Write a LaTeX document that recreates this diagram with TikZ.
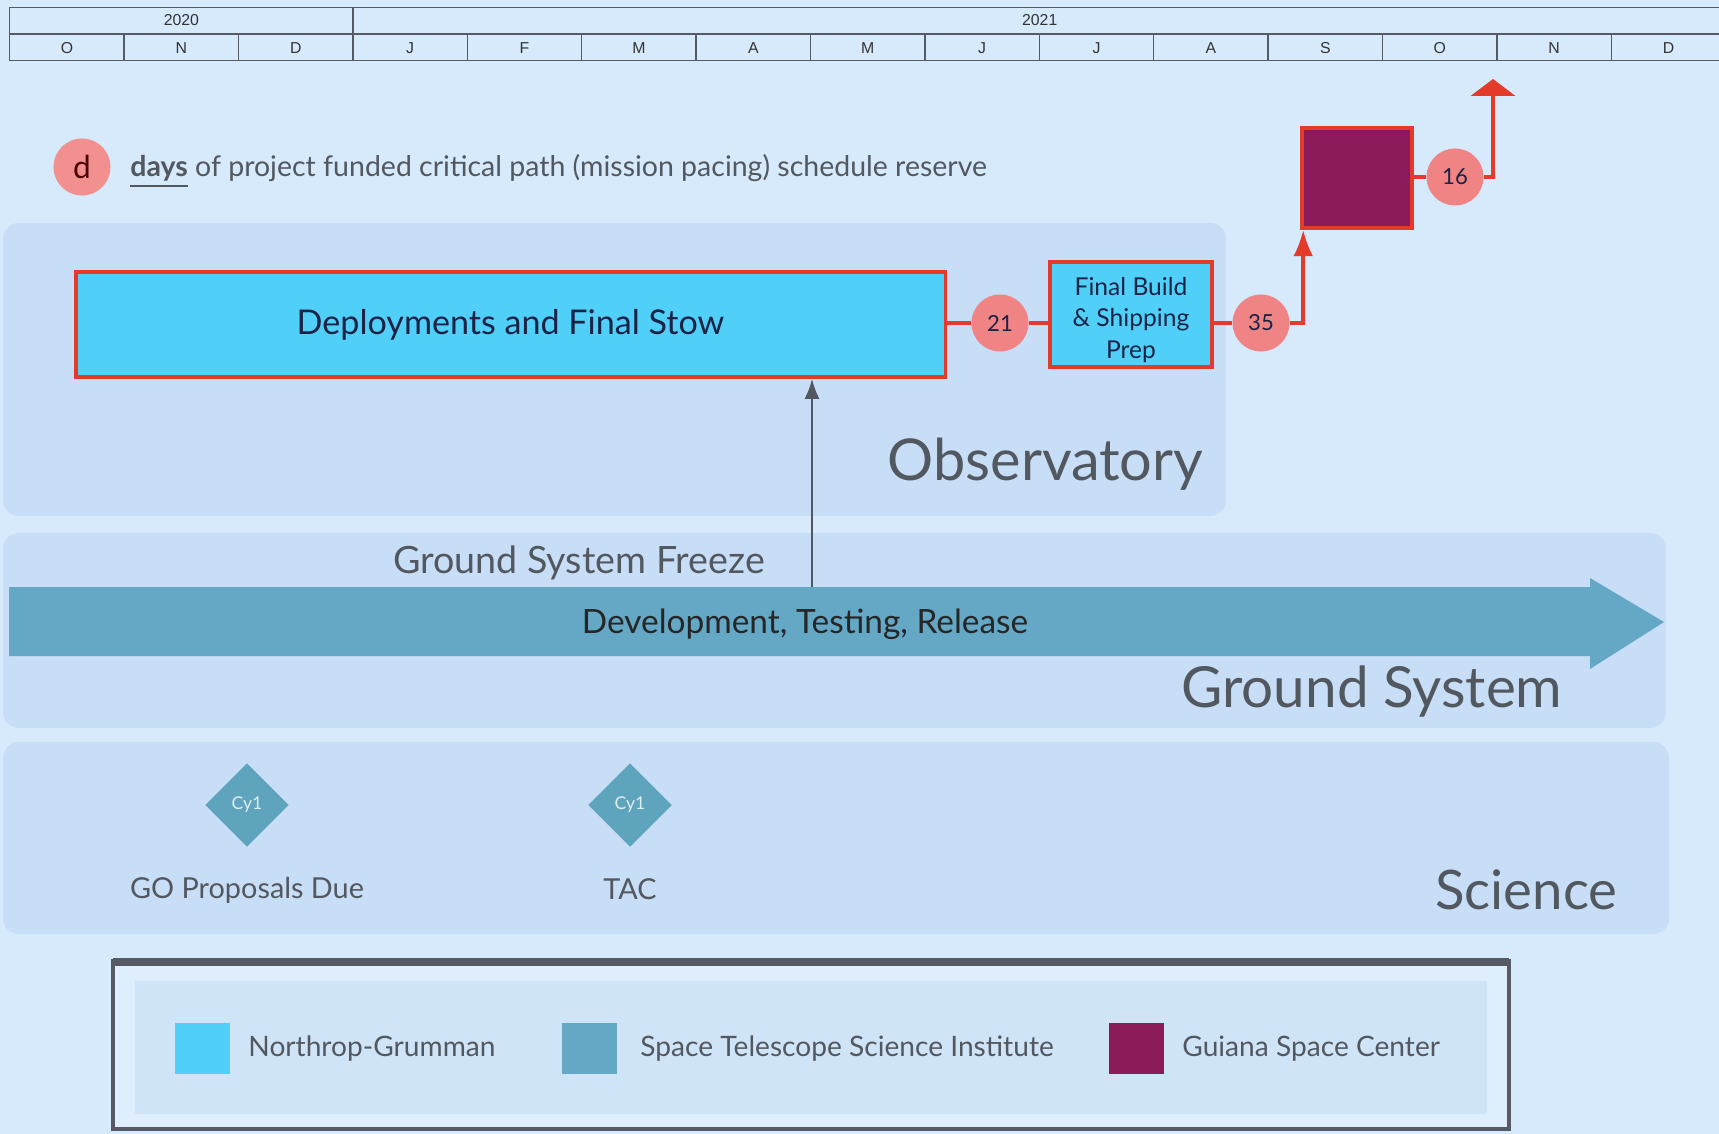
\documentclass[tikz,border=0pt]{standalone}
\usepackage{fontspec}
\setmainfont{Lato}
\newfontfamily\hdrfont{Liberation Sans}
\usepackage{tikz}
\usetikzlibrary{arrows.meta,shapes.geometric,positioning}

\definecolor{bgblue}{RGB}{214,234,252}
\definecolor{panelblue}{RGB}{200,221,246}
\definecolor{legendbg}{RGB}{222,238,252}
\definecolor{legendinner}{RGB}{208,228,248}
\definecolor{ngcyan}{RGB}{80,207,249}
\definecolor{critred}{RGB}{228,58,42}
\definecolor{salmon}{RGB}{240,132,132}
\definecolor{gscpurple}{RGB}{139,26,90}
\definecolor{stsciblue}{RGB}{100,168,198}
\definecolor{diamondblue}{RGB}{95,164,189}
\definecolor{navy}{RGB}{25,35,70}
\definecolor{labelgray}{RGB}{82,88,96}
\definecolor{hdrline}{RGB}{85,90,100}

\newcommand{\fs}[2]{\fontsize{#1}{#2}\selectfont}

\begin{document}
\begin{tikzpicture}[x=0.01cm, y=-0.01cm, >=Latex,
    every node/.style={inner sep=0pt},
    month/.style={draw=hdrline, line width=0.4pt, minimum width=1.144cm, minimum height=0.26cm,
      font=\hdrfont\fs{4.5}{5}, text=black!80},
    panel/.style={fill=panelblue, rounded corners=0.16cm},
    task/.style={draw=critred, line width=1pt, fill=ngcyan, text=navy},
    reserve/.style={circle, fill=salmon, minimum size=0.57cm, text=navy, font=\fs{6.3}{7}},
    crit/.style={draw=critred, line width=1pt},
    milestone/.style={diamond, fill=diamondblue, minimum size=0.84cm, text=white!80!diamondblue, font=\fs{5}{6}},
    swatch/.style={minimum width=0.55cm, minimum height=0.51cm},
    legendtxt/.style={text=labelgray, font=\fs{8}{10}},
    biglabel/.style={text=labelgray, anchor=east}]

    \fill[bgblue] (0,0) rectangle (1719,1134);
    \useasboundingbox (0,0) rectangle (1719,1134);

    % timeline header
    \node[month, anchor=south west, minimum width=3.432cm] (y2020) at (9,34) {2020};
    \node[month, anchor=south west, minimum width=13.728cm] (y2021) at (352.2,34) {2021};
    \foreach \m [count=\i from 0] in {O,N,D,J,F,M,A,M,J,J,A,S,O,N,D}
        \node[month, anchor=north west] (m\i) at (9+\i*114.4,34) {\m};

    % key
    \node[reserve, fill=salmon!90!white, text=black!70!red, font=\fs{9}{10}] (key) at (82,167) {d};
    \node[right=0.185cm of key, yshift=-0.04cm, text=labelgray, font=\fs{8.1}{9}] (keytxt)
        {\textbf{\underline{days}} of project funded critical path (mission pacing) schedule reserve};

    % swim lanes
    \fill[panel] (3,223) rectangle (1226,516);
    \fill[panel] (3,533) rectangle (1666,728);
    \fill[panel] (3,742) rectangle (1669,934);

    % observatory
    \node[task, minimum width=8.69cm, minimum height=1.05cm, font=\fs{9.7}{11}] (deploy) at (510.5,324.5)
        {Deployments and Final Stow};
    \node[reserve] (r21) at (1000,323) {21};
    \node[task, minimum width=1.62cm, minimum height=1.05cm, font=\fs{7}{8.9}] (build) at (1131,314.5)
        {\raisebox{-0.055cm}[\height][\depth]{\parbox{1.6cm}{\centering Final Build\\\& Shipping\\Prep}}};
    \node[reserve] (r35) at (1261,323) {35};
    \node[draw=critred, line width=1pt, fill=gscpurple, minimum width=1.1cm, minimum height=1.0cm] (gsc) at (1357,178) {};
    \node[reserve] (r16) at (1455,177) {16};
    \coordinate (launch) at (1493,79);

    \draw[crit] (deploy.east |- r21) -- (r21);
    \draw[crit] (r21) -- (r21 -| build.west);
    \draw[crit] (r35 -| build.east) -- (r35);
    \draw[crit, ->] (r35) -| ([xshift=0.03cm]gsc.south west);
    \draw[crit] (gsc.east |- r16) -- (r16);
    \draw[crit, -{Triangle[width=12.5pt, length=4.8pt]}] (r16) -| (launch);

    \node[biglabel, font=\fs{16.4}{18}] (obs) at (1204,464) {Observatory};

    % ground system
    \fill[stsciblue] (9,587) -- (1590,587) -- (1590,578) -- (1664,622) -- (1590,669) -- (1590,656) -- (9,656) -- cycle;
    \node[text=black!85, font=\fs{9.5}{11}] (dev) at (805,624) {Development, Testing, Release};
    \node[text=labelgray, font=\fs{10.7}{12}] (freezelbl) at (579,563) {Ground System Freeze};
    \coordinate (freeze) at (812,587);
    \draw[->, draw=labelgray, line width=0.6pt] (freeze) -- (freeze |- deploy.south);
    \node[biglabel, font=\fs{16.1}{18}] (gs) at (1563,692) {Ground System};

    % science
    \node[milestone] (cy1a) at (247,805) {Cy1};
    \node[milestone] (cy1b) at (630,805) {Cy1};
    \node[text=labelgray, font=\fs{8.2}{9}] (golbl) at (247,890) {GO Proposals Due};
    \node[text=labelgray, font=\fs{8.2}{9}] (taclbl) at (630,889) {TAC};
    \node[biglabel, font=\fs{15.5}{17}] (sci) at (1618,890) {Science};

    % legend
    \draw[draw=hdrline, line width=1pt, fill=legendbg] (113,961) rectangle (1509,1129);
    \draw[hdrline, line width=2.2pt] (113,962) -- (1509,962);
    \fill[legendinner] (135,981) rectangle (1487,1114);
    \node[swatch, fill=ngcyan] (sw1) at (202.5,1048.5) {};
    \node[legendtxt, right=0.17cm of sw1] (lg1) {Northrop-Grumman};
    \node[swatch, fill=stsciblue] (sw2) at (589.5,1048.5) {};
    \node[legendtxt, right=0.22cm of sw2] (lg2) {Space Telescope Science Institute};
    \node[swatch, fill=gscpurple] (sw3) at (1136.5,1048.5) {};
    \node[legendtxt, right=0.17cm of sw3] (lg3) {Guiana Space Center};
\end{tikzpicture}
\end{document}
